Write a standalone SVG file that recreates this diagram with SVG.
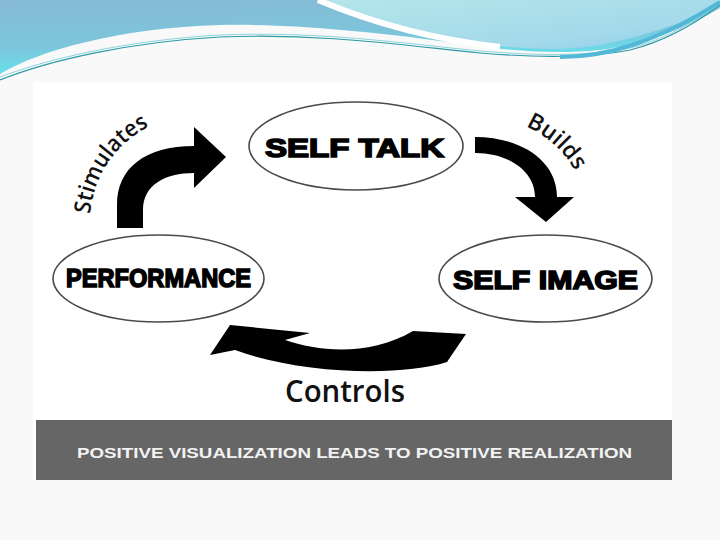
<svg xmlns="http://www.w3.org/2000/svg" width="720" height="540" viewBox="0 0 720 540">
  <defs>
    <linearGradient id="blueGrad" x1="0" y1="0" x2="0.3" y2="1">
      <stop offset="0" stop-color="#86b9d4"/>
      <stop offset="0.6" stop-color="#7cc6dc"/>
      <stop offset="1" stop-color="#62e6ee"/>
    </linearGradient>
    <linearGradient id="bubbleGrad" x1="0" y1="0" x2="1" y2="1">
      <stop offset="0" stop-color="#b4e6ea"/>
      <stop offset="0.7" stop-color="#a3d9ea"/>
      <stop offset="1" stop-color="#8ecbec"/>
    </linearGradient>
    <path id="stimPath" d="M90,216 A108,108 0 0 1 165,120"/>
    <path id="buildPath" d="M520,124 A104,104 0 0 1 582,186"/>
  </defs>
  <style>
    .node ellipse { fill: #ffffff; stroke: #4a4a4a; stroke-width: 1.6; }
    .node text { font-family: "Liberation Sans", Arial, sans-serif; font-weight: bold; font-size: 26px; fill: #000; stroke: #000; stroke-width: 1.6; }
    .arrow { fill: #000; }
    .lbl { font-family: "Open Sans", "Noto Sans", sans-serif; font-weight: 600; fill: #111; }
    .footer text { font-family: "Liberation Sans", Arial, sans-serif; font-weight: bold; font-size: 15px; fill: #f2f2f2; }
  </style>

  <rect x="0" y="0" width="720" height="540" fill="#f9f9f9"/>

  <g id="header-waves">
    <path d="M0,0 H720 V8 C690,25 650,44 600,50 C560,54 520,52 470,45 C400,35 300,23 220,25 C120,28 40,50 0,74 Z" fill="url(#blueGrad)"/>
    <path d="M320,0 C370,20 430,38 500,46 C540,50 570,50 600,45 C650,35 690,20 720,6 V0 Z" fill="url(#bubbleGrad)"/>
    <path d="M318,0 C370,22 430,39 500,47" fill="none" stroke="#ffffff" stroke-width="6"/>
    <path d="M0,80 C50,60 130,42 220,37 C320,33 400,45 480,53 C540,58 590,58 630,50 C670,40 700,20 720,5" fill="none" stroke="#2a9aa6" stroke-width="1.2"/>
    <path d="M0,77 C50,58 130,40 220,35 C320,31 400,43 480,51 C540,56 590,56 630,48 C670,38 700,18 720,3" fill="none" stroke="#8fd3dc" stroke-width="1"/>
    <path d="M560,57 C610,57 660,40 720,2" fill="none" stroke="#52b8d8" stroke-width="4"/>
  </g>

  <rect x="33" y="82" width="639" height="398" fill="#ffffff"/>

  <g id="connectors">
    <g id="edge-stimulates">
      <path class="arrow" d="M117,228 L117,205 C117,168 145,146 194,146 L194,127 L226,157 L194,188 L194,173 C165,173 143,185 143,210 L143,228 Z"/>
      <text class="lbl" font-size="23"><textPath href="#stimPath" startOffset="2" textLength="110" lengthAdjust="spacingAndGlyphs">Stimulates</textPath></text>
    </g>
    <g id="edge-builds">
      <path class="arrow" d="M475,137 C520,137 557,160 557,197 L574,197 L546,222 L515,197 L535,197 C535,172 510,153 475,153 Z"/>
      <text class="lbl" font-size="23"><textPath href="#buildPath" startOffset="6" textLength="68" lengthAdjust="spacingAndGlyphs">Builds</textPath></text>
    </g>
    <g id="edge-controls">
      <path class="arrow" d="M210,355 L230,325 L310,333 L285,340 C320,352 370,356 413,331 L466,334 L447,362 C400,377 300,374 235,350 Z"/>
      <text class="lbl" x="285" y="402" font-size="30" textLength="120" lengthAdjust="spacingAndGlyphs">Controls</text>
    </g>
  </g>

  <g id="node-self-talk" class="node">
    <ellipse cx="356" cy="146" rx="107" ry="44"/>
    <text x="265" y="157" textLength="179" lengthAdjust="spacingAndGlyphs">SELF TALK</text>
  </g>
  <g id="node-performance" class="node">
    <ellipse cx="158.5" cy="278.5" rx="105.5" ry="43.5"/>
    <text x="66" y="287" textLength="185" lengthAdjust="spacingAndGlyphs">PERFORMANCE</text>
  </g>
  <g id="node-self-image" class="node">
    <ellipse cx="545.5" cy="278.5" rx="106.5" ry="43.5"/>
    <text x="453" y="289" textLength="185" lengthAdjust="spacingAndGlyphs">SELF IMAGE</text>
  </g>

  <g id="footer" class="footer">
    <rect x="36" y="420" width="636" height="60" fill="#666666"/>
    <text x="77" y="458" textLength="555" lengthAdjust="spacingAndGlyphs">POSITIVE VISUALIZATION LEADS TO POSITIVE REALIZATION</text>
  </g>
</svg>
